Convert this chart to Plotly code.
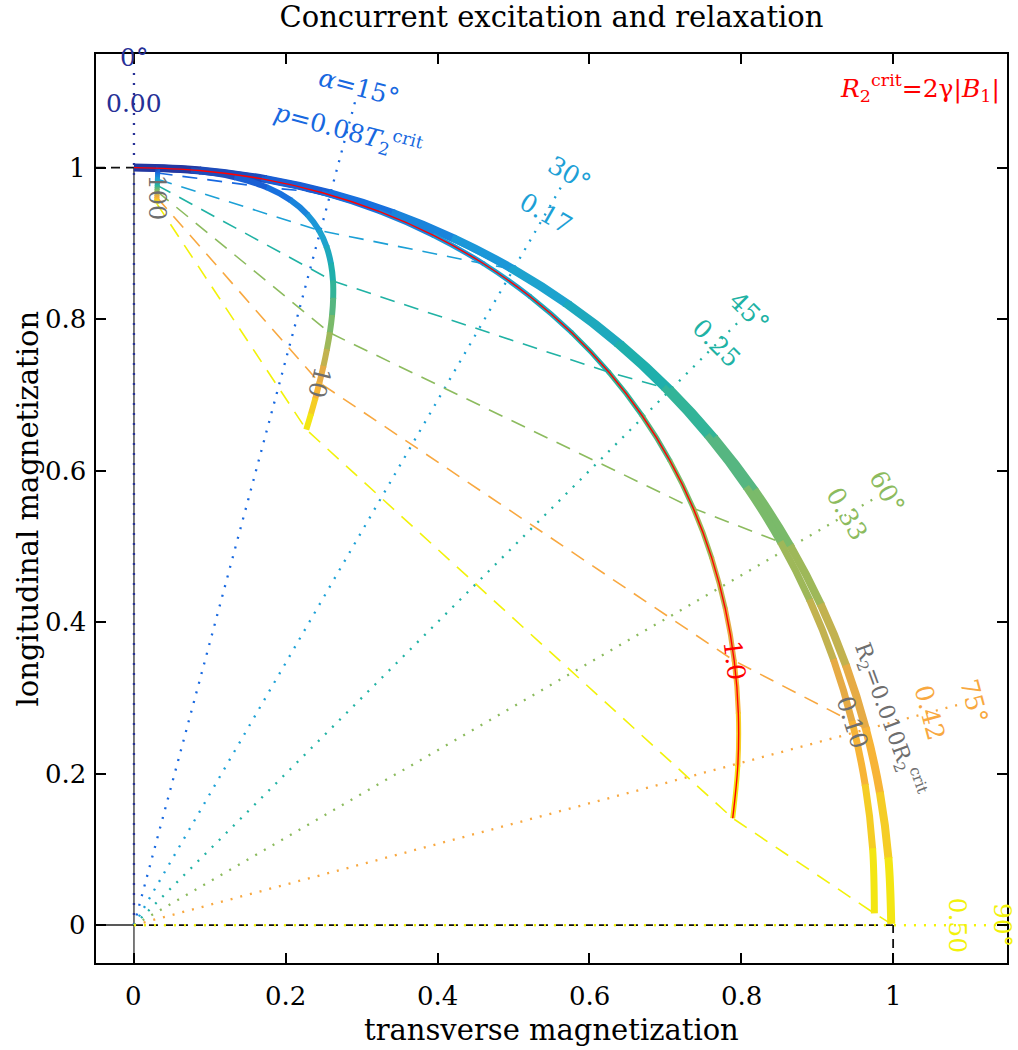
import math
import plotly.graph_objects as go

# ---------------- data ----------------
alpha_deg = [0, 5, 10, 15, 20, 25, 30, 35, 40, 45, 50, 55, 60, 65, 70, 75, 80, 85, 90]

# R2 = 0.010 R2crit
c001_x = [0.0, 0.0872, 0.1736, 0.2587, 0.3418, 0.4223, 0.4996, 0.5730, 0.6421, 0.7062,
          0.7649, 0.8179, 0.8646, 0.9047, 0.9379, 0.9639, 0.9826, 0.9938, 0.9975]
c001_y = [1.0, 0.9962, 0.9848, 0.9659, 0.9397, 0.9063, 0.8661, 0.8193, 0.7662, 0.7074,
          0.6431, 0.5740, 0.5005, 0.4233, 0.3428, 0.2598, 0.1748, 0.0886, 0.0016]
# R2 = 0.10 R2crit
c01_x = [0.0, 0.0871, 0.1731, 0.2577, 0.3401, 0.4197, 0.4959, 0.5680, 0.6357, 0.6983,
         0.7554, 0.8068, 0.8517, 0.8901, 0.9216, 0.9460, 0.9632, 0.9730, 0.9753]
c01_y = [1.0, 0.9962, 0.9848, 0.9660, 0.9399, 0.9067, 0.8667, 0.8203, 0.7676, 0.7094,
         0.6459, 0.5777, 0.5053, 0.4292, 0.3501, 0.2685, 0.1851, 0.1006, 0.0155]
# R2 = 1.0 R2crit
c1_x = [0.0, 0.0860, 0.1689, 0.2483, 0.3237, 0.3946, 0.4606, 0.5213, 0.5764, 0.6257,
        0.6688, 0.7060, 0.7368, 0.7611, 0.7790, 0.7907, 0.7961, 0.7954, 0.7887]
c1_y = [1.0, 0.9962, 0.9851, 0.9668, 0.9418, 0.9105, 0.8731, 0.8302, 0.7823, 0.7298,
        0.6734, 0.6132, 0.5502, 0.4848, 0.4176, 0.3490, 0.2798, 0.2103, 0.1411]
# R2 = 10 R2crit
c10_x = [0.0, 0.0761, 0.1332, 0.1756, 0.2065, 0.2286, 0.2438, 0.2537, 0.2595, 0.2622,
         0.2624, 0.2609, 0.2580, 0.2541, 0.2495, 0.2443, 0.2388, 0.2330, 0.2270]
c10_y = [1.0, 0.9965, 0.9873, 0.9737, 0.9569, 0.9379, 0.9172, 0.8955, 0.8731, 0.8503,
         0.8274, 0.8045, 0.7819, 0.7595, 0.7375, 0.7160, 0.6949, 0.6743, 0.6542]
# R2 = 100 R2crit
c100_x = [0.0, 0.0294, 0.0312, 0.0312, 0.0311, 0.0310, 0.0309, 0.0309, 0.0308, 0.0307,
          0.0306, 0.0305, 0.0304, 0.0304, 0.0303, 0.0302, 0.0301, 0.0300, 0.0299]
c100_y = [1.0, 0.9982, 0.9955, 0.9928, 0.9901, 0.9874, 0.9847, 0.9820, 0.9793, 0.9766,
          0.9739, 0.9713, 0.9686, 0.9660, 0.9633, 0.9607, 0.9581, 0.9555, 0.9528]

ray_deg = [0, 15, 30, 45, 60, 75, 90]
ray_deg_text = ["0°", "<i>α</i>=15°", "30°", "45°", "60°", "75°", "90°"]
ray_p_text = ["0.00", "<i>p</i>=0.08<i>T</i><sub>2</sub><sup>crit</sup>", "0.17", "0.25",
              "0.33", "0.42", "0.50"]
curve_labels = ["R<sub>2</sub>=0.010R<sub>2</sub><sup>crit</sup>", "0.10", "1.0", "10", "100"]
x_ticks = [0, 0.2, 0.4, 0.6, 0.8, 1]
x_ticktext = ["0", "0.2", "0.4", "0.6", "0.8", "1"]
y_ticks = [0, 0.2, 0.4, 0.6, 0.8, 1]
y_ticktext = ["0", "0.2", "0.4", "0.6", "0.8", "1"]
title_text = "Concurrent excitation and relaxation"
x_title = "transverse magnetization"
y_title = "longitudinal magnetization"

# ---------------- styling ----------------
SERIF = "DejaVu Serif, Liberation Serif, serif"
W, H = 1018, 1050
ML, MR, MT, MB = 96, 11, 54, 87
XR = [-0.05, 1.15]
YR = [-0.05, 1.15]
SX = (W - ML - MR) / (XR[1] - XR[0])
SY = (H - MT - MB) / (YR[1] - YR[0])

anchor_deg = [0, 15, 30, 45, 60, 75, 90]
anchor_rgb = [(38, 48, 150), (23, 104, 224), (28, 160, 214), (32, 178, 164),
              (140, 187, 94), (248, 168, 64), (242, 242, 10)]


def col(a):
    a = max(0.0, min(90.0, a))
    for i in range(len(anchor_deg) - 1):
        if anchor_deg[i] <= a <= anchor_deg[i + 1]:
            t = (a - anchor_deg[i]) / (anchor_deg[i + 1] - anchor_deg[i])
            c0, c1 = anchor_rgb[i], anchor_rgb[i + 1]
            return "rgb(%d,%d,%d)" % tuple(round(c0[j] + t * (c1[j] - c0[j])) for j in range(3))
    return "rgb(%d,%d,%d)" % anchor_rgb[-1]


fig = go.Figure()


def add_line(xs, ys, color, width, dash="solid", shape="linear"):
    fig.add_trace(go.Scatter(x=xs, y=ys, mode="lines",
                             line=dict(color=color, width=width, dash=dash, shape=shape, simplify=False),
                             hoverinfo="skip", showlegend=False))


# black reference lines
add_line([0, 0], [-0.05, 1], "#333333", 1.3)
add_line([-0.05, 0], [0, 0], "#222222", 1.5)
add_line([0, 1], [0, 0], "#111111", 1.8, "9px,6px")
add_line([-0.05, 0], [1, 1], "#111111", 1.8, "9px,6px")
add_line([1, 1], [-0.05, 0], "#111111", 1.8, "9px,6px")

# dotted rays from origin
R_RAY = 1.13
for a in ray_deg:
    r = math.radians(a)
    add_line([0, R_RAY * math.sin(r)], [0, R_RAY * math.cos(r)], col(a), 2.3, "2px,8px")
add_line([0, 1.15], [0, 0], col(90), 2.3, "2px,8px")

# dashed lines connecting equal pulse angles
for a in ray_deg[1:]:
    i = alpha_deg.index(a)
    xs = [c100_x[i], c10_x[i], c1_x[i], c01_x[i], c001_x[i]]
    ys = [c100_y[i], c10_y[i], c1_y[i], c01_y[i], c001_y[i]]
    add_line(xs, ys, col(a), 1.6, "15px,10px")

# curves: smooth spline pieces, each piece showing only its own (colour-coded) segment
curves = [(c001_x, c001_y, 8), (c01_x, c01_y, 7), (c1_x, c1_y, 5), (c10_x, c10_y, 6), (c100_x, c100_y, 5)]


def seglen(cx, cy, i):
    return math.hypot((cx[i + 1] - cx[i]) * SX, (cy[i + 1] - cy[i]) * SY)


for cx, cy, w in curves:
    n = len(cx)
    for i in range(n - 1):
        lo = max(0, i - 1)
        hi = min(n - 1, i + 2)
        L = seglen(cx, cy, i)
        if lo < i:
            pre = seglen(cx, cy, i - 1)
            dash = "0px,%.2fpx,%.2fpx,4000px" % (max(pre - 0.8, 0), L + 1.6)
        else:
            dash = "%.2fpx,4000px" % (L + 0.8)
        add_line(cx[lo:hi + 1], cy[lo:hi + 1], col((alpha_deg[i] + alpha_deg[i + 1]) / 2), w, dash, "spline")

# red line on the critical curve
add_line(c1_x, c1_y, "red", 1.4, "solid", "spline")

annotations = []
# ray labels
for a, dt, pt in zip(ray_deg, ray_deg_text, ray_p_text):
    r = math.radians(a)
    for rad, txt in ((1.145, dt), (1.085, pt)):
        annotations.append(dict(x=rad * math.sin(r), y=rad * math.cos(r), xref="x", yref="y", text=txt,
                                showarrow=False, textangle=a, xanchor="center", yanchor="middle",
                                font=dict(family=SERIF, size=25, color=col(a))))

# curve labels at alpha = 75 deg
i75 = alpha_deg.index(75)
lab_curves = [c001_x, c001_y], [c01_x, c01_y], [c1_x, c1_y], [c10_x, c10_y], [c100_x, c100_y]
lab_angles = [70, 72, 83, 104, 90]
lab_dx = [0.031, 0.0, 0.0, 0.0, 0.0]
lab_dy = [0.011, 0.0, 0.0, 0.0, 0.0]
lab_size = [22, 24, 25, 24, 24]
lab_cols = ["#6e6e6e", "#6e6e6e", "red", "#6e6e6e", "#6e6e6e"]
for (cx, cy), txt, ang, dx, dy, s, c in zip(lab_curves, curve_labels, lab_angles, lab_dx, lab_dy, lab_size, lab_cols):
    annotations.append(dict(x=cx[i75] + dx, y=cy[i75] + dy, xref="x", yref="y", text=txt, showarrow=False,
                            textangle=ang, xanchor="center", yanchor="middle",
                            font=dict(family=SERIF, size=s, color=c)))

annotations.append(dict(x=1.143, y=1.105, xref="x", yref="y",
                        text="<i>R</i><sub>2</sub><sup>crit</sup>=2γ|<i>B</i><sub>1</sub>|",
                        showarrow=False, xanchor="right", yanchor="middle",
                        font=dict(family=SERIF, size=25, color="red")))

TICK_FONT = dict(family=SERIF, size=26, color="black")
for v, t in zip(x_ticks, x_ticktext):
    annotations.append(dict(x=v, y=0, xref="x", yref="paper", text=t, showarrow=False,
                            xanchor="center", yanchor="middle", yshift=-33, font=TICK_FONT))
for v, t in zip(y_ticks, y_ticktext):
    annotations.append(dict(x=0, y=v, xref="paper", yref="y", text=t, showarrow=False,
                            xanchor="right", yanchor="middle", xshift=-8, font=TICK_FONT))
annotations.append(dict(x=0.5, y=0, xref="paper", yref="paper", text=x_title, showarrow=False,
                        xanchor="center", yanchor="middle", yshift=-67,
                        font=dict(family=SERIF, size=29, color="black")))
annotations.append(dict(x=0, y=0.5, xref="paper", yref="paper", text=y_title, showarrow=False,
                        textangle=-90, xanchor="center", yanchor="middle", xshift=-69,
                        font=dict(family=SERIF, size=29, color="black")))

axis_common = dict(showgrid=False, zeroline=False, showline=True, linecolor="black",
                   linewidth=1.5, mirror="ticks", ticks="inside", ticklen=10, tickwidth=1.5, tickcolor="black",
                   showticklabels=False, automargin=False)

fig.update_layout(
    width=W, height=H,
    margin=dict(l=ML, r=MR, t=MT, b=MB, autoexpand=False),
    plot_bgcolor="white", paper_bgcolor="white",
    title=dict(text=title_text, x=0.5, xref="paper", xanchor="center", y=1 - 17 / H, yref="container",
               yanchor="middle", font=dict(family=SERIF, size=29, color="black")),
    xaxis=dict(range=XR, tickvals=x_ticks, **axis_common),
    yaxis=dict(range=YR, tickvals=y_ticks, **axis_common),
    annotations=annotations,
    showlegend=False,
)

fig.write_html("out.html", config={"displayModeBar": False},
               post_script="document.body.style.margin='0px';document.body.style.overflow='hidden';")
